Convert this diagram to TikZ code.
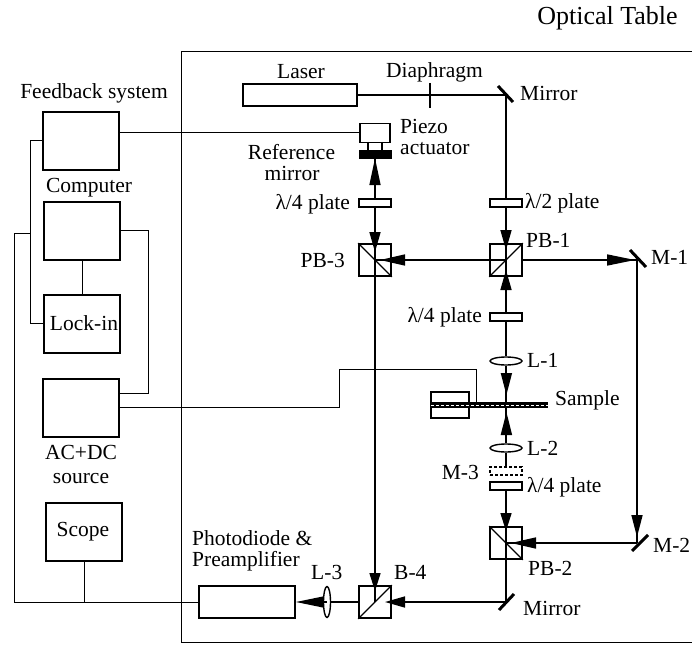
\documentclass[tikz,border=0pt]{standalone}
\usepackage{fontspec}
\setmainfont{Liberation Serif}
\usetikzlibrary{arrows.meta,positioning,calc,shapes.geometric}
\begin{document}
\begin{tikzpicture}[x=1pt, y=-1pt,
  lab/.style={inner sep=0pt, font=\fontsize{21.5}{24}\selectfont, align=left},
  instr/.style={draw, line width=1.6pt, minimum width=76pt, minimum height=58pt, inner sep=0pt},
  cube/.style={draw, line width=1.6pt, minimum size=32pt, inner sep=0pt},
  plate/.style={draw, line width=1.5pt, minimum width=32pt, minimum height=8pt, inner sep=0pt},
  lens/.style={draw, line width=1.4pt, ellipse, inner sep=0pt, minimum width=32pt, minimum height=8pt},
  beam/.style={line width=1.6pt},
  wire/.style={line width=1pt},
  mirr/.style={line width=3pt},
  split/.style={line width=1.3pt},
  hd/.style={-{Triangle[length=#1, width=11pt]}, line width=1.6pt}]
  \useasboundingbox (0,0) rectangle (692,644);
  % table outline, open on the right
  \coordinate (tr) at (692,52);
  \coordinate (tl) at (181,52);
  \coordinate (bl) at (181,642);
  \coordinate (br) at (692,642);
  \draw[line width=1pt] (tr) -- (tl) -- (bl) -- (br);
  \node[lab, font=\fontsize{26}{28}\selectfont] at (607.5,18) {Optical Table};
  % instruments outside the table
  \node[instr] (fb) at (81,141) {};
  \node[instr] (comp) at (82,231) {};
  \node[instr] (lock) at (82,324) {};
  \node[instr] (src) at (81,408) {};
  \node[instr] (scope) at (84,532) {};
  \node[lab] (fblab) at (94,93) {Feedback system};
  \node[lab] (complab) at (89,188) {Computer};
  \node[lab] (locklab) at (84,323) {Lock-in};
  \node[lab, align=center] (srclab) at (81,464) {AC+DC\\source};
  \node[lab] (scopelab) at (83,532) {Scope};
  % laser line
  \node[draw, line width=1.6pt, minimum width=114pt, minimum height=22pt, inner sep=0pt] (laser) at (300,95) {};
  \coordinate (diaph) at (430,95);
  \coordinate (m0) at (506,95);
  \draw[line width=2pt] ($(diaph)+(0,-12)$) -- ($(diaph)+(0,13)$);
  \draw[mirr] ($(m0)+(-8,-9)$) -- ($(m0)+(7,7)$);
  \node[lab] at (301,72) {Laser};
  \node[lab] at (434.5,72) {Diaphragm};
  \node[lab, anchor=west] at (520,93) {Mirror};
  % reference arm
  \node[draw, line width=1.5pt, minimum width=30pt, minimum height=19pt, inner sep=0pt] (piezo) at (375,133) {};
  \node[draw, fill=black, minimum width=32pt, minimum height=8pt, inner sep=0pt] (refm) at (375,154) {};
  \draw[line width=1.1pt] (368,142) -- (368,150) (382,142) -- (382,150);
  \node[plate] (q1) at (375,203) {};
  \node[cube] (pb3) at (375,260) {};
  \node[lab, anchor=west] at (400,126) {Piezo};
  \node[lab, anchor=west] at (400,149) {actuator};
  \node[lab] at (291.5,152) {Reference};
  \node[lab] at (292,173) {mirror};
  \node[lab, anchor=east] at (350,204) {λ/4 plate};
  \node[lab, anchor=east] at (345,260) {PB-3};
  % main arm
  \node[plate] (h1) at (506,203) {};
  \node[cube] (pb1) at (506,260) {};
  \node[plate] (q2) at (506,317) {};
  \node[lens] (l1) at (506,361) {};
  \node[lens] (l2) at (506,448) {};
  \node[draw, line width=1.5pt, densely dashed, minimum width=32pt, minimum height=8pt, inner sep=0pt] (m3) at (506,471) {};
  \node[plate] (q3) at (506,486) {};
  \node[cube] (pb2) at (506,543) {};
  \coordinate (m1) at (637,260);
  \coordinate (m2) at (637,543);
  \coordinate (m4) at (506,602);
  \node[cube] (b4) at (375,602) {};
  \node[lens, minimum width=7pt, minimum height=31pt] (l3) at (327,602) {};
  \node[draw, line width=1.6pt, minimum width=96pt, minimum height=32pt, inner sep=0pt] (diode) at (247,602) {};
  \draw[mirr] ($(m1)+(-7,-10)$) -- ($(m1)+(9,7)$);
  \draw[mirr] ($(m2)+(-5,8)$) -- ($(m2)+(11,-8)$);
  \draw[mirr] ($(m4)+(-7,8)$) -- ($(m4)+(8,-8)$);
  \node[lab, anchor=west] at (525,203) {λ/2 plate};
  \node[lab, anchor=west] at (526,240) {PB-1};
  \node[lab, anchor=west] at (651,257) {M-1};
  \node[lab, anchor=east] at (482,317) {λ/4 plate};
  \node[lab, anchor=west] at (527,360) {L-1};
  \node[lab, anchor=west] at (555,400) {Sample};
  \node[lab, anchor=west] at (527,448) {L-2};
  \node[lab, anchor=east] at (479,472) {M-3};
  \node[lab, anchor=west] at (527,487) {λ/4 plate};
  \node[lab, anchor=west] at (653,545) {M-2};
  \node[lab, anchor=west] at (528,568) {PB-2};
  \node[lab, anchor=west] at (394,572) {B-4};
  \node[lab, anchor=west] at (523,608) {Mirror};
  \node[lab, anchor=west] at (311,572) {L-3};
  \node[lab, anchor=west] at (192,538) {Photodiode \&};
  \node[lab, anchor=west] at (192,561) {Preamplifier};
  % sample
  \node[draw, line width=1.5pt, minimum width=38pt, minimum height=26pt, inner sep=0pt] (hold) at (450,405) {};
  \node[draw, line width=0.8pt, minimum width=116pt, minimum height=5.5pt, inner sep=0pt, fill=black, anchor=west] (samp) at (431,405) {};
  % beams
  \draw[beam] (laser.east) -- (m0);
  \draw[beam] (m0) -- (h1.north);
  \draw[beam] (h1.south) -- (pb1.south);
  \draw[beam] (pb1.south) -- (q2.north);
  \draw[beam] (q2.south) -- (l1.north);
  \draw[beam] (l1.south) -- (l2.north);
  \draw[beam] (l2.south) -- (m3.north);
  \draw[beam] (q3.south) -- (pb2.north);
  \draw[beam] (pb2.north) -- (m4.center);
  \draw[beam] (m4) -- (b4.east);
  \draw[beam] (b4.west) -- (l3.east);
  \draw[beam] (m1) -- (m2);
  \draw[beam] (m2) -- (pb2.center);
  \draw[beam] (pb1.east) -- (m1);
  \draw[beam] (pb1.center) -- (pb3.center);
  \draw[beam] (refm.south) -- (q1.north);
  \draw[beam] (q1.south) -- (pb3.north);
  \draw[beam] (pb3.north) -- (b4.center);
  \draw[white, line width=0.9pt, dash pattern=on 3pt off 2pt] (samp.west) -- (samp.east);
  % splitting faces
  \draw[split] (pb1.south west) -- (pb1.north east);
  \draw[split] (pb3.north west) -- (pb3.south east);
  \draw[split] (pb2.north west) -- (pb2.south east);
  \draw[split] (b4.south west) -- (b4.north east);
  % arrowheads
  \draw[hd=27pt] ($(refm.south)+(0,29)$) -- (refm.south);
  \draw[hd=20pt] ($(pb3.center)+(0,-28)$) -- ($(pb3.center)+(0,-8)$);
  \draw[hd=25pt] ($(pb3.center)+(30,0)$) -- ($(pb3.center)+(5,0)$);
  \draw[hd=20pt] ($(pb1.center)+(0,-30)$) -- ($(pb1.center)+(0,-10)$);
  \draw[hd=20pt] ($(pb1.center)+(0,30)$) -- ($(pb1.center)+(0,10)$);
  \draw[hd=28pt] ($(m1)+(-30,0)$) -- ($(m1)+(-2,0)$);
  \draw[hd=22pt] ($(m2)+(0,-28)$) -- ($(m2)+(0,-6)$);
  \draw[hd=25pt] ($(pb2.center)+(30,0)$) -- ($(pb2.center)+(5,0)$);
  \draw[hd=18pt] ($(pb2.center)+(0,-30)$) -- ($(pb2.center)+(0,-12)$);
  \draw[hd=22pt] ($(samp.center)+(17,-32)$) -- ($(samp.center)+(17,-10)$);
  \draw[hd=23pt] ($(samp.center)+(17,30)$) -- ($(samp.center)+(17,7)$);
  \draw[hd=18pt] ($(b4.center)+(0,-29)$) -- ($(b4.center)+(0,-11)$);
  \draw[hd=20pt] ($(b4.center)+(30,0)$) -- ($(b4.center)+(10,0)$);
  \draw[hd=28pt] (l3.center) -- (diode.east |- l3.center);
  % signal wires
  \coordinate (w1) at (30,141);
  \coordinate (w2) at (30,323);
  \coordinate (w3) at (14,233);
  \coordinate (w4) at (14,602);
  \coordinate (w5) at (148,230);
  \coordinate (w6) at (148,393);
  \coordinate (w7) at (339,407);
  \coordinate (w8) at (339,369);
  \coordinate (w9) at (476,369);
  \draw[wire] (fb.east |- piezo.west) -- (piezo.west);
  \draw[wire] (w1 -| fb.west) -- (w1) -- (w2) -- (w2 -| lock.west);
  \draw[wire] (w1 |- w3) -- (w3) -- (w4) -- (w4 -| diode.west);
  \draw[wire] (scope.south) -- (scope.south |- w4);
  \draw[wire] (comp.south) -- (lock.north);
  \draw[wire] (w5 -| comp.east) -- (w5) -- (w6) -- (w6 -| src.east);
  \draw[wire] (w7 -| src.east) -- (w7) -- (w8) -- (w9) -- (w9 |- samp.north);
\end{tikzpicture}
\end{document}
